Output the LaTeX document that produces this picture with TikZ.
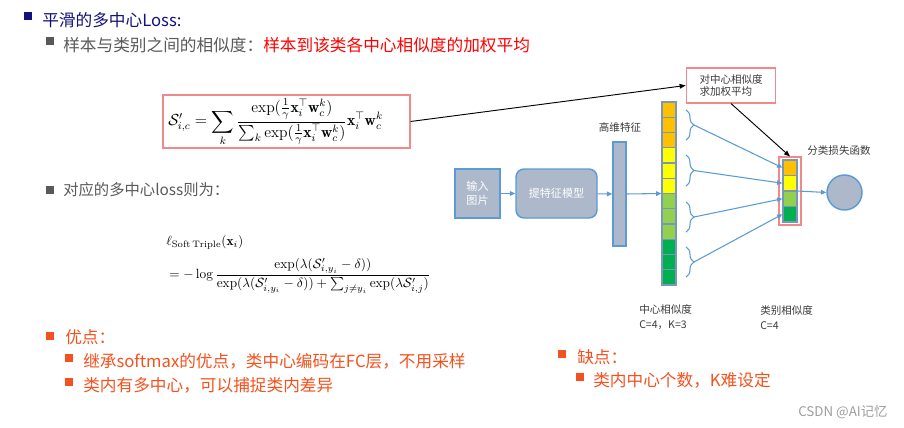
\documentclass[tikz,border=0pt]{standalone}
\usepackage{amsmath}
\usepackage{amssymb}
\usepackage{fontspec}
\newfontfamily\cjk{Noto Sans CJK SC}
\usepackage{xcolor}
\usepackage{tikz}
\usetikzlibrary{arrows.meta,decorations.pathreplacing}

\definecolor{hnavy}{HTML}{12127A}
\definecolor{txgray}{HTML}{595959}
\definecolor{orng}{HTML}{F4511E}
\definecolor{labgray}{HTML}{3A3A3A}
\definecolor{pinkred}{HTML}{F08A8A}
\definecolor{netblue}{HTML}{5B9BD5}
\definecolor{netfill}{HTML}{ADB9CA}
\definecolor{cellline}{HTML}{7A96B8}
\definecolor{cOr}{HTML}{FFC000}
\definecolor{cYe}{HTML}{FFFF00}
\definecolor{cLg}{HTML}{92D050}
\definecolor{cDg}{HTML}{00B050}

\begin{document}
\begin{tikzpicture}[
  x=0.75pt, y=-0.75pt,
  font=\cjk,
  % ---- text --------------------------------------------------------------
  head/.style={anchor=west, inner sep=0pt, font=\cjk\fontsize{12.5pt}{15pt}\selectfont},
  subhead/.style={head, font=\cjk\fontsize{11.5pt}{14pt}\selectfont},
  bul/.style={fill=#1, inner sep=0pt, minimum size=6pt},
  lbl/.style={inner sep=0pt, text=labgray, font=\cjk\fontsize{7.9pt}{11.25pt}\selectfont},
  % ---- boxes -------------------------------------------------------------
  pinkbox/.style={draw=pinkred, line width=0.8pt, inner sep=0pt},
  netbox/.style={draw=netblue, line width=1.1pt, fill=netfill, text=white,
    inner sep=0pt, align=center, font=\cjk\fontsize{8.3pt}{10.5pt}\selectfont},
  cell/.style={draw=cellline, line width=0.9pt, minimum width=10.5pt,
    minimum height=11.44pt, inner sep=0pt},
  % ---- edges -------------------------------------------------------------
  flow/.style={draw=netblue, line width=0.8pt, -{Triangle[length=4pt,width=3.5pt]}},
  note/.style={draw=black, line width=0.7pt, -{Triangle[length=4.5pt,width=3.5pt]}},
  grp/.style={draw=netblue, line width=0.8pt, decorate, decoration={brace, amplitude=6pt}},
]
\useasboundingbox (0,0) rectangle (904,428);

% ---- headings ---------------------------------------------------------------
\node[bul=hnavy] (b1) at (27.5,16.5) {};
\node[head, text=hnavy] (h1) at (42,20.5) {平滑的多中心Loss:};
\node[bul=txgray] (b2) at (50,41) {};
\node[head, text=txgray] (h2) at (63,45)
  {样本与类别之间的相似度：\textcolor{red}{样本到该类各中心相似度的加权平均}};

% ---- similarity formula ----------------------------------------------------
\node[pinkbox, minimum width=185.25pt, minimum height=39.75pt] (sbox) at (286.5,121.5) {};
\node[anchor=west, inner sep=0pt, font=\fontsize{11.7pt}{14pt}\selectfont] (sfm) at (168,122.5)
  {$\displaystyle \mathcal{S}'_{i,c}=\sum_k\frac{\exp(\frac{1}{\gamma}\mathbf{x}_i^\top\mathbf{w}_c^k)}{\sum_k\exp(\frac{1}{\gamma}\mathbf{x}_i^\top\mathbf{w}_c^k)}\mathbf{x}_i^\top\mathbf{w}_c^k$};

% ---- loss formula ----------------------------------------------------------
\node[bul=txgray] (b3) at (50,190) {};
\node[subhead, text=txgray] (h3) at (63,190) {对应的多中心loss则为：};
\node[anchor=west, inner sep=0pt] (lhs) at (166,242)
  {$\ell_{\mathrm{Soft\,Triple}}(\mathbf{x}_i)$};
\node[anchor=west, inner sep=0pt] (rhs) at (169,276)
  {$\displaystyle =-\log\frac{\exp(\lambda(\mathcal{S}'_{i,y_i}-\delta))}{\exp(\lambda(\mathcal{S}'_{i,y_i}-\delta))+\sum_{j\neq y_i}\exp(\lambda\mathcal{S}'_{i,j})}$};

% ---- pros / cons -------------------------------------------------------------
\node[bul=orng] (b4) at (50,336) {};
\node[head, text=orng] (pro) at (65,337) {优点：};
\node[bul=orng] (b5) at (68.5,357.5) {};
\node[head, text=orng] (pro1) at (83,361) {继承softmax的优点，类中心编码在FC层，不用采样};
\node[bul=orng] (b6) at (68.5,382) {};
\node[head, text=orng] (pro2) at (83,385) {类内有多中心，可以捕捉类内差异};

\node[bul=orng] (b7) at (561.5,354) {};
\node[head, text=orng] (con) at (577,357) {缺点：};
\node[bul=orng] (b8) at (579.5,377) {};
\node[head, text=orng] (con1) at (593,380) {类内中心个数，K难设定};

% ---- network ---------------------------------------------------------------
\node[netbox, minimum width=33.75pt, minimum height=36.75pt] (inbox) at (477.5,193.5) {输入\\图片};
\node[netbox, minimum width=60.75pt, minimum height=36.75pt, rounded corners=6pt] (fmod) at (556.5,193.5) {提特征模型};
\node[netbox, minimum width=9.75pt, minimum height=78pt] (feat) at (619.5,194) {};
\node[lbl] (featlbl) at (620,127) {高维特征};
\draw[flow] (inbox) -- (fmod);
\draw[flow] (fmod) -- (feat);

% center similarities, C=4, K=3
\foreach \i/\c in {1/cOr,2/cOr,3/cOr,4/cYe,5/cYe,6/cYe,7/cLg,8/cLg,9/cLg,10/cDg,11/cDg,12/cDg}
  \node[cell, fill=\c] (c\i) at (669,{102+\i*15.25-7.625}) {};
\node[cell, minimum height=137.25pt] (ccol) at (669,193.5) {};
\draw[flow] (feat.east) -- (ccol.west);

% class similarities, C=4
\node[pinkbox, minimum width=16.5pt, minimum height=51pt] (cbox) at (790,191) {};
\foreach \i/\c in {1/cOr,2/cYe,3/cLg,4/cDg}
  \node[cell, minimum height=11.625pt, fill=\c] (k\i) at (790,{160+\i*15.5-7.75}) {};
\node[cell, minimum height=46.5pt] (kcol) at (790,191) {};

% braces, one per class
\foreach \i/\a/\b in {1/110/140,2/155/186,3/202/232,4/247/277}
{
  \draw[grp] (686,\a) -- (686,\b);
  \coordinate (bt\i) at (694,{(\a+\b)/2});
  \draw[flow] (bt\i) -- (k\i.west);
}

\node[netbox, circle, minimum size=26.25pt] (loss) at (844.5,192.5) {};
\node[lbl] (losslbl) at (839,151) {分类损失函数};
\draw[flow] (kcol.east) -- (loss.west);

\node[pinkbox, text width=47.25pt, inner xsep=10pt, minimum height=26.25pt, align=left,
  text=labgray, font=\cjk\fontsize{7.9pt}{9.5pt}\selectfont] (wbox) at (731,85.5)
  {对中心相似度\\求加权平均};
\draw[note] (sbox.east) -- (wbox.west);
\draw[note] (wbox.south) -- (cbox.north);

\node[lbl, anchor=west, align=left] (csimlbl) at (639,317.5) {中心相似度\\C=4，K=3};
\node[lbl, anchor=west, align=left] (ksimlbl) at (760,317.5) {类别相似度\\C=4};

% ---- watermark -------------------------------------------------------------
\node[anchor=west, inner sep=0pt, text=black!38, font=\cjk\fontsize{10pt}{12pt}\selectfont] (mark) at (798,412) {CSDN @AI记忆};

\end{tikzpicture}
\end{document}
